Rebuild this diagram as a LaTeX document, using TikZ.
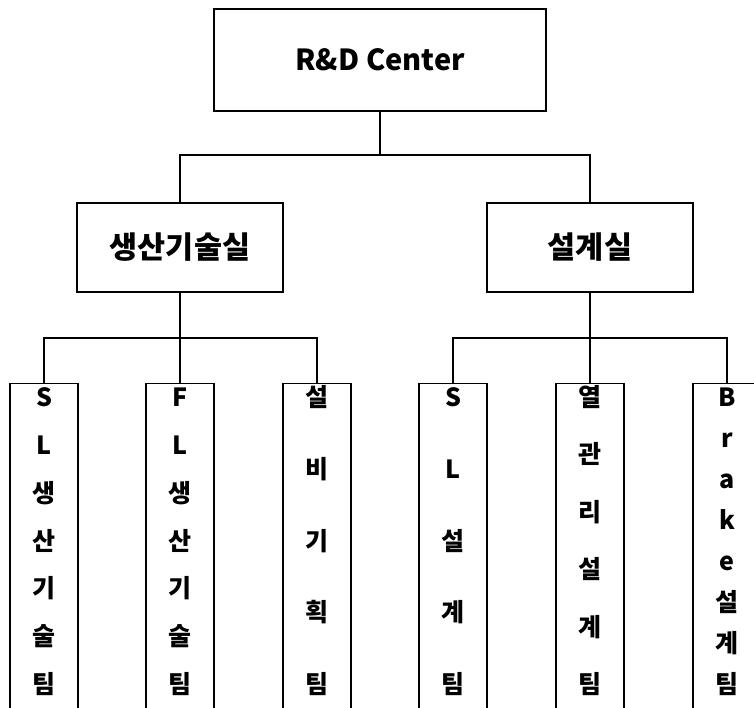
\documentclass[tikz,border=0pt]{standalone}
\usepackage{fontspec}
\setmainfont{Noto Sans CJK KR}
\begin{document}
\begin{tikzpicture}
      [
      x=1pt, y=-1pt,
      head/.style={draw,line width=1.2pt,rectangle,inner sep=0pt,minimum width=332pt,minimum height=102pt,font=\bfseries\fontsize{29}{32}\selectfont},
      dept/.style={draw,line width=1.2pt,rectangle,inner sep=0pt,minimum width=206pt,minimum height=89pt,font=\bfseries\fontsize{30.5}{34}\selectfont},
      team/.style={draw,line width=1.2pt,rectangle,inner sep=0pt,minimum width=68pt,minimum height=340pt,anchor=north},
      glyph/.style={inner sep=0pt,text height=0.7em,text depth=0pt,font=\bfseries\fontsize{25}{28}\selectfont},
      link/.style={line width=1.2pt}
      ]
      \useasboundingbox (0,0) rectangle (754,707);
      \clip (0,0) rectangle (754,707);

      \node (rnd) at (380,60) [head] {R\&D Center};
      \node (prod) at (180,247.5) [dept] {생산기술실};
      \node (design) at (590,247.5) [dept] {설계실};
      \coordinate (hub) at (380,155);
      \draw [link] (rnd) -- (hub);
      \draw [link] (hub) -| (prod);
      \draw [link] (hub) -| (design);

      \node (t1) at (44,383) [team] {};
      \node (t2) at (180,383) [team] {};
      \node (t3) at (317,383) [team] {};
      \node (t4) at (453,383) [team] {};
      \node (t5) at (590,383) [team] {};
      \node (t6) at (727,383) [team] {};
      \coordinate (hubP) at (180,338);
      \coordinate (hubD) at (590,338);
      \draw [link] (prod) -- (hubP);
      \draw [link] (hubP) -| (t1);
      \draw [link] (hubP) -- (t2);
      \draw [link] (hubP) -| (t3);
      \draw [link] (design) -- (hubD);
      \draw [link] (hubD) -| (t4);
      \draw [link] (hubD) -- (t5);
      \draw [link] (hubD) -| (t6);

      \foreach \c [count=\i] in {S,L,생,산,기,술,팀}
        \node (t1-\i) at (44,{403+(\i-1)*287/6}) [glyph] {\c};
      \foreach \c [count=\i] in {F,L,생,산,기,술,팀}
        \node (t2-\i) at (180,{403+(\i-1)*287/6}) [glyph] {\c};
      \foreach \c [count=\i] in {설,비,기,획,팀}
        \node (t3-\i) at (317,{403+(\i-1)*287/4}) [glyph] {\c};
      \foreach \c [count=\i] in {S,L,설,계,팀}
        \node (t4-\i) at (453,{403+(\i-1)*287/4}) [glyph] {\c};
      \foreach \c [count=\i] in {열,관,리,설,계,팀}
        \node (t5-\i) at (590,{403+(\i-1)*287/5}) [glyph] {\c};
      \foreach \c [count=\i] in {B,r,a,k,e,설,계,팀}
        \node (t6-\i) at (727,{403+(\i-1)*287/7}) [glyph] {\c};
    \end{tikzpicture}
\end{document}
